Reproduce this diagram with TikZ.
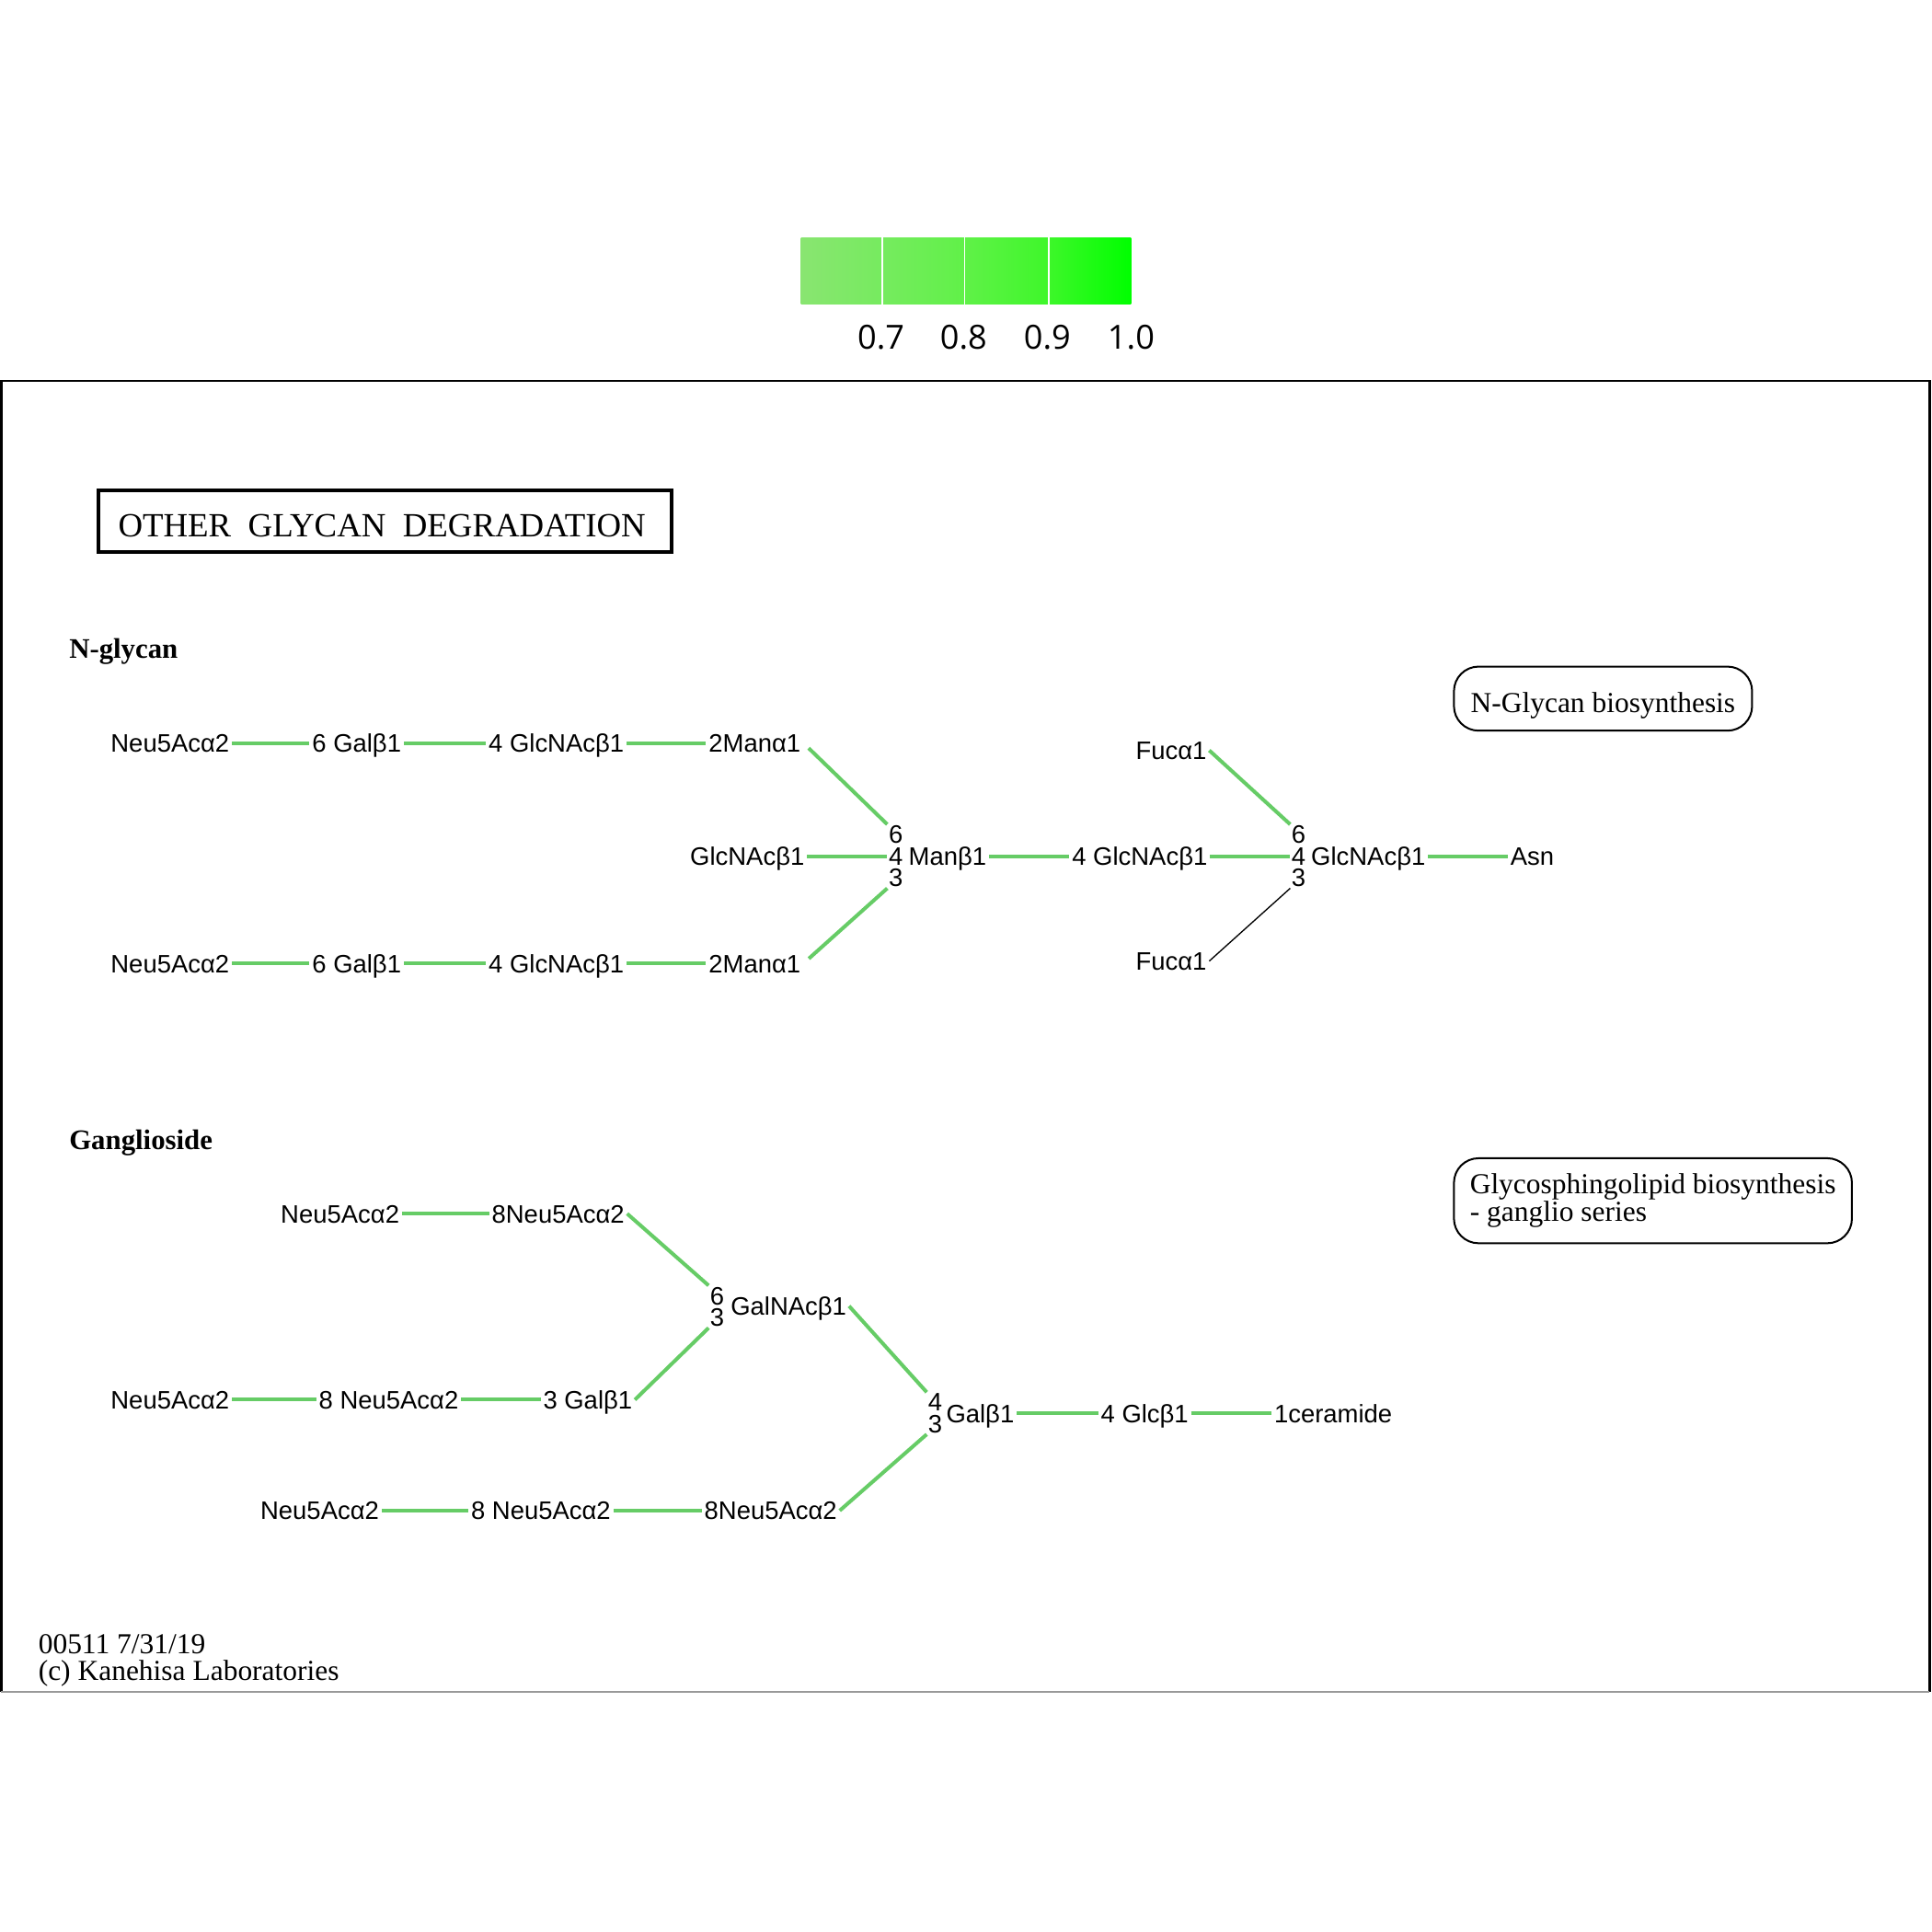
\documentclass[tikz,border=0pt]{standalone}
\usepackage{fontspec}
\setmainfont{Liberation Serif}
\newfontfamily\glyfont{Liberation Sans}
\newfontfamily\barfont{Open Sans}
\usetikzlibrary{calc}
\definecolor{hitgreen}{RGB}{102,204,102}
\definecolor{barA}{RGB}{137,229,113}
\definecolor{barB}{RGB}{118,235,95}
\definecolor{barC}{RGB}{96,241,72}
\definecolor{barD}{RGB}{62,247,42}
\definecolor{barE}{RGB}{0,255,0}
\tikzset{
  link/.style={draw=hitgreen,line width=3pt},
  faint/.style={draw=black,line width=1pt},
  sugar/.style={font=\glyfont\fontsize{20.5}{24}\selectfont,inner sep=2pt,text height=14.7pt,text depth=0pt},
  linkpos/.style={font=\glyfont\fontsize{20.5}{17.5}\selectfont,align=center,inner sep=1pt},
  mapbox/.style={draw,rounded corners=20pt,line width=1.5pt,font=\fontsize{23.5}{22}\selectfont,align=left},
  section/.style={font=\bfseries\fontsize{23}{26}\selectfont,inner sep=0pt,anchor=base west}
}
\newcommand{\glylink}[2]{\draw[link] (#1.east) -- (#2.west);}

\begin{document}
\begin{tikzpicture}[x=1pt,y=-1pt]
  \useasboundingbox (0,0) rectangle (1568,1568);

  % ================= colour key =================
  \shade[left color=barA,right color=barB] (650,193) rectangle (716,247);
  \shade[left color=barB,right color=barC] (716,193) rectangle (783,247);
  \shade[left color=barC,right color=barD] (783,193) rectangle (851,247);
  \shade[left color=barD,right color=barE] (851,193) rectangle (918,247);
  \foreach \xs in {716,783,851}
    \draw[white,line width=1.2pt] (\xs,193) -- (\xs,247);
  \foreach \xs/\val in {715/0.7,782/0.8,850/0.9,918/1.0}
    \node[font=\barfont\fontsize{27}{30}\selectfont] (key\xs) at (\xs,274) {\val};

  % ================= map frame =================
  \draw[line width=2pt] (1,1373) -- (1,309) -- (1566,309) -- (1566,1373);
  \draw[black!40,line width=1pt] (1,1373) -- (1566,1373);

  \node[draw,line width=3pt,minimum width=465pt,minimum height=50pt,inner sep=0pt,
        text height=18pt,text depth=0pt,font=\fontsize{27.5}{30}\selectfont] (title) at (312.5,423)
        {\raisebox{-3.5pt}{\hspace*{-5pt}OTHER\ \ GLYCAN\ \ DEGRADATION}};

  \node[section] (nglyhead) at (56,534) {N-glycan};
  \node[section] (ganghead) at (56,933) {Ganglioside};

  \node[mapbox,minimum width=242pt,minimum height=52pt,text height=16pt,text depth=0pt] (nglymap) at (1301,567)
        {\raisebox{-3pt}{N-Glycan biosynthesis}};
  \node[mapbox,minimum width=323pt,minimum height=69pt] (gslmap) at (1341.5,974.5)
        {Glycosphingolipid biosynthesis\\- ganglio series};

  % ================= N-glycan =================
  \node[sugar] (neuA) at (138,603) {Neu5Acα2};
  \node[sugar] (galA) at (289.5,603) {6 Galβ1};
  \node[sugar] (gnA) at (451.5,603) {4 GlcNAcβ1};
  \node[sugar] (manA) at (612.5,603) {2Manα1};
  \node[sugar] (neuB) at (138,782) {Neu5Acα2};
  \node[sugar] (galB) at (289.5,782) {6 Galβ1};
  \node[sugar] (gnB) at (451.5,782) {4 GlcNAcβ1};
  \node[sugar] (manB) at (612.5,782) {2Manα1};
  \node[sugar] (bisect) at (606.5,695) {GlcNAcβ1};
  \node[linkpos] (manpos) at (727,695) {6\\4\\3};
  \node[sugar] (core) at (769,695) {Manβ1};
  \node[sugar] (gnC) at (925,695) {4 GlcNAcβ1};
  \node[linkpos] (gnpos) at (1054,695) {6\\4\\3};
  \node[sugar] (gnD) at (1110.5,695) {GlcNAcβ1};
  \node[sugar] (asn) at (1243.5,695) {Asn};
  \node[sugar] (fucA) at (950.5,609) {Fucα1};
  \node[sugar] (fucB) at (950.5,780) {Fucα1};

  \glylink{neuA}{galA}
  \glylink{galA}{gnA}
  \glylink{gnA}{manA}
  \glylink{neuB}{galB}
  \glylink{galB}{gnB}
  \glylink{gnB}{manB}
  \glylink{bisect}{manpos}
  \glylink{core}{gnC}
  \glylink{gnC}{gnpos}
  \glylink{gnD}{asn}
  \draw[link,shorten <=6pt] (manA.east) -- (manpos.north west);
  \draw[link,shorten <=6pt] (manB.east) -- (manpos.south west);
  \draw[link] (fucA.east) -- (gnpos.north west);
  \draw[faint] (fucB.east) -- (gnpos.south west);

  % ================= Ganglioside =================
  \node[sugar] (siaA) at (276,985) {Neu5Acα2};
  \node[sugar] (siaB) at (453,985) {8Neu5Acα2};
  \node[linkpos] (galnacpos) at (582,1060.5) {6\\3};
  \node[sugar] (galnac) at (640,1060) {GalNAcβ1};
  \node[sugar] (siaC) at (138,1136) {Neu5Acα2};
  \node[sugar] (siaD) at (315.5,1136) {8 Neu5Acα2};
  \node[sugar] (galC) at (477,1136) {3 Galβ1};
  \node[linkpos] (galpos) at (759,1147) {4\\3};
  \node[sugar] (galD) at (795.5,1147) {Galβ1};
  \node[sugar] (glc) at (929,1147) {4 Glcβ1};
  \node[sugar] (cer) at (1082,1147) {1ceramide};
  \node[sugar] (siaE) at (259.5,1226) {Neu5Acα2};
  \node[sugar] (siaF) at (439,1226) {8 Neu5Acα2};
  \node[sugar] (siaG) at (625.5,1226) {8Neu5Acα2};

  \glylink{siaA}{siaB}
  \glylink{siaC}{siaD}
  \glylink{siaD}{galC}
  \glylink{galD}{glc}
  \glylink{glc}{cer}
  \glylink{siaE}{siaF}
  \glylink{siaF}{siaG}
  \draw[link] (siaB.east) -- (galnacpos.north west);
  \draw[link] (galC.east) -- (galnacpos.south west);
  \draw[link] (galnac.east) -- (galpos.north west);
  \draw[link] (siaG.east) -- (galpos.south west);

  % ================= footer =================
  \node[font=\fontsize{23.5}{26}\selectfont,inner sep=0pt,anchor=base west] (mapid) at (31,1342) {00511 7/31/19};
  \node[font=\fontsize{23.5}{26}\selectfont,inner sep=0pt,anchor=base west] (credit) at (31,1364) {(c) Kanehisa Laboratories};
\end{tikzpicture}
\end{document}
